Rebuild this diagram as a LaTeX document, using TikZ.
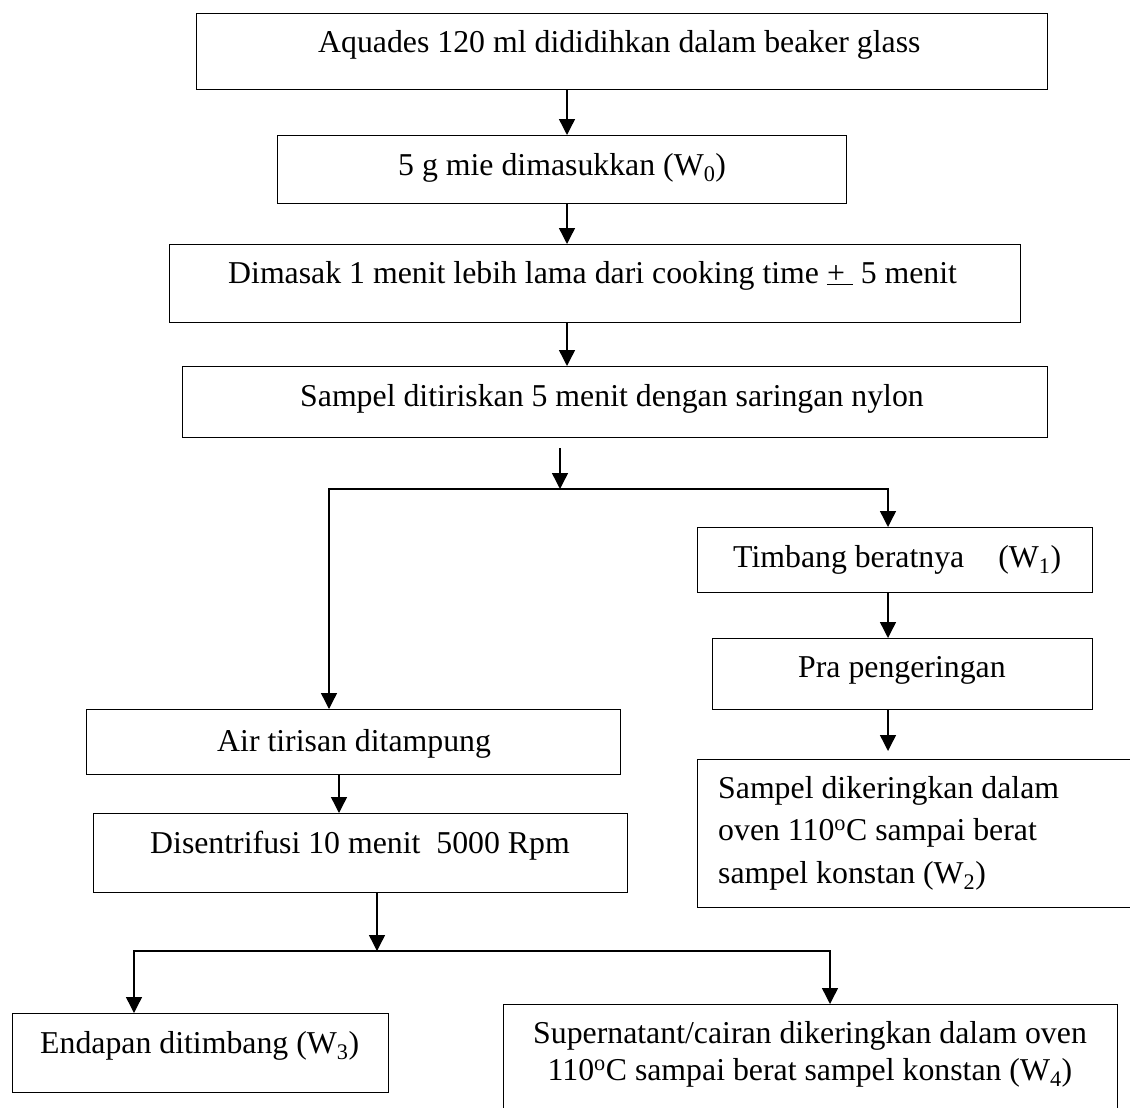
\documentclass[tikz,border=0pt]{standalone}
\usepackage{fontspec}
\setmainfont{Liberation Serif}
\usetikzlibrary{arrows.meta}
\begin{document}
\begin{tikzpicture}[x=1pt,y=-1pt,
  stepbox/.style={draw, line width=1.4pt, rectangle, inner sep=0pt, anchor=north west},
  lbl/.style={inner sep=0pt, anchor=base west, font=\fontsize{31.8}{40}\selectfont},
  arr/.style={line width=1.4pt, -{Triangle[width=16pt,length=16pt]}}]
\useasboundingbox (0,0) rectangle (1130,1108);

% process boxes
\node[stepbox, minimum width=851pt, minimum height=76pt]  (aquades) at (196,13)  {};
\node[stepbox, minimum width=569pt, minimum height=68pt]  (mie)     at (277,135) {};
\node[stepbox, minimum width=851pt, minimum height=78pt]  (masak)   at (169,244) {};
\node[stepbox, minimum width=865pt, minimum height=71pt]  (tiris)   at (182,366) {};
\node[stepbox, minimum width=534pt, minimum height=65pt]  (air)     at (86,709)  {};
\node[stepbox, minimum width=534pt, minimum height=79pt]  (sentri)  at (93,813)  {};
\node[stepbox, minimum width=376pt, minimum height=79pt]  (endapan) at (12,1013) {};
\node[stepbox, minimum width=395pt, minimum height=65pt]  (timbang) at (697,527) {};
\node[stepbox, minimum width=380pt, minimum height=71pt]  (pra)     at (712,638) {};
\node[stepbox, minimum width=443pt, minimum height=148pt] (kering)  at (697,759) {};
\node[stepbox, minimum width=614pt, minimum height=116pt] (super)   at (503,1004) {};

% box texts
\node[lbl] (t1)  at (318,53)  {Aquades 120 ml dididihkan dalam beaker glass};
\node[lbl] (t2)  at (398,175) {5 g mie dimasukkan (W\textsubscript{0})};
\node[lbl] (t3)  at (228,283) {Dimasak 1 menit lebih lama dari cooking time \underline{+\ }\ 5 menit};
\node[lbl] (t4)  at (300,406) {Sampel ditiriskan 5 menit dengan saringan nylon};
\node[lbl] (t5)  at (217,751) {Air tirisan ditampung};
\node[lbl] (t6)  at (150,853) {Disentrifusi 10 menit\ \ 5000 Rpm};
\node[lbl] (t7)  at (40,1053) {Endapan ditimbang (W\textsubscript{3})};
\node[lbl] (t8)  at (733,567) {Timbang beratnya\hspace{26pt} (W\textsubscript{1})};
\node[lbl] (t9)  at (798,677) {Pra pengeringan};
\node[lbl] (t10) at (718,798) {Sampel dikeringkan dalam};
\node[lbl] (t11) at (718,840) {oven 110\textsuperscript{o}C sampai berat};
\node[lbl] (t12) at (718,883) {sampel konstan (W\textsubscript{2})};
\node[lbl, anchor=base] (t13) at (810,1043) {Supernatant/cairan dikeringkan dalam oven};
\node[lbl, anchor=base] (t14) at (810,1080) {110\textsuperscript{o}C sampai berat sampel konstan (W\textsubscript{4})};

% connector axes and branch points
\coordinate (axis)   at (567,0);
\coordinate (drop1)  at (560,448);
\coordinate (split1) at (560,489);
\coordinate (lx)     at (329,0);
\coordinate (rx)     at (888,0);
\coordinate (kend)   at (888,751);
\coordinate (cx)     at (339,0);
\coordinate (split2) at (377,951);
\coordinate (ex)     at (134,0);
\coordinate (sx)     at (830,0);

% main column
\draw[arr] (aquades.south -| axis) -- (mie.north -| axis);
\draw[arr] (mie.south -| axis) -- (masak.north -| axis);
\draw[arr] (masak.south -| axis) -- (tiris.north -| axis);
\draw[arr] (drop1) -- (split1);

% first branching
\draw[arr] (split1) -| (air.north -| lx);
\draw[arr] (split1) -| (timbang.north -| rx);

% right branch
\draw[arr] (timbang.south -| rx) -- (pra.north -| rx);
\draw[arr] (pra.south -| rx) -- (kend);

% left branch
\draw[arr] (air.south -| cx) -- (sentri.north -| cx);
\draw[arr] (sentri.south -| split2) -- (split2);
\draw[arr] (split2) -| (endapan.north -| ex);
\draw[arr] (split2) -| (super.north -| sx);
\end{tikzpicture}
\end{document}
